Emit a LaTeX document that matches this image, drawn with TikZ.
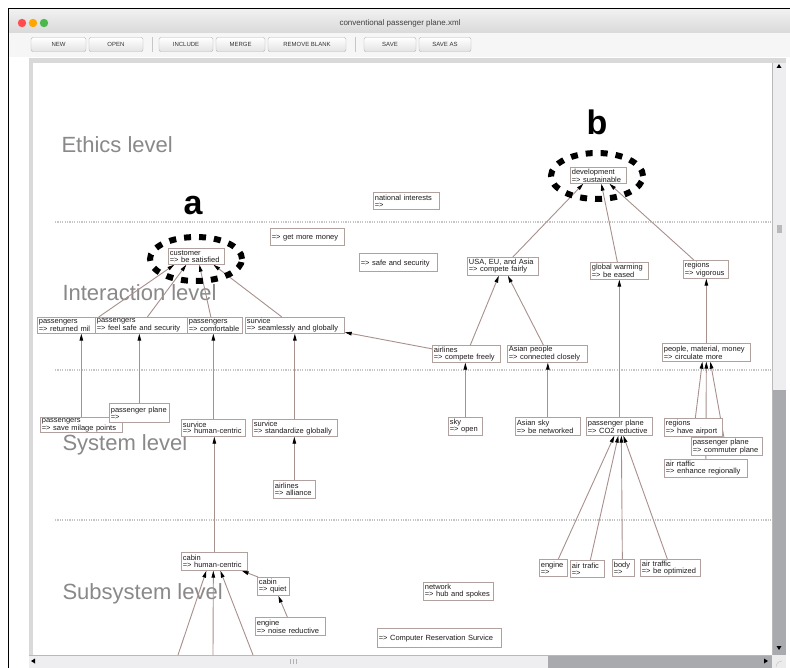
\documentclass[tikz,border=0pt]{standalone}
\usepackage{fontspec}
\setmainfont{Liberation Sans}
\newfontfamily\nodefont{Liberation Sans}
\usetikzlibrary{arrows.meta,calc}
\pgfdeclarelayer{chrome}
\pgfdeclarelayer{links}
\pgfsetlayers{chrome,links,main}

\definecolor{boxline}{RGB}{176,160,158}
\definecolor{linkline}{RGB}{168,144,140}
\definecolor{leveltext}{RGB}{138,136,136}
\definecolor{nodetext}{RGB}{30,26,26}
\definecolor{track}{RGB}{168,170,174}
\definecolor{lightbar}{RGB}{238,238,240}

\tikzset{
  bx/.style={draw=boxline, fill=white, line width=0.7pt, anchor=north west,
    inner xsep=1.5pt, inner ysep=0.5pt, align=left, text=nodetext,
    font=\nodefont\fontsize{7.5}{6.9}\selectfont},
  bw/.code={\pgfmathsetlengthmacro\boxtw{#1-3}\tikzset{text width=\boxtw}},
  bh/.style={minimum height=#1},
  link/.style={draw=linkline, line width=0.9pt,
    -{Triangle[length=7pt,width=3.6pt,color=black]}},
  levelsep/.style={draw=gray!45, line width=1.3pt, dash pattern=on 1.2pt off 1.2pt},
  levelname/.style={anchor=base west, text=leveltext, font=\fontsize{22}{22}\selectfont},
  tag/.style={anchor=base, font=\bfseries\fontsize{34}{34}\selectfont},
  hilite/.style={draw=black, line width=6pt, dash pattern=on 7pt off 8pt},
  btn/.style={draw=gray!60, rounded corners=2pt, top color=white, bottom color=gray!22,
    minimum height=14pt, inner sep=0pt, text=black!80, font=\fontsize{6}{6}\selectfont},
}

\begin{document}
\begin{tikzpicture}[x=1pt,y=-1pt]
\useasboundingbox (0,0) rectangle (790,668);

\begin{pgfonlayer}{chrome}
  % page and window frame
  \fill[white] (0,0) rectangle (790,668);
  \shade[top color=gray!12, bottom color=gray!30] (9,10) rectangle (790,33);
  \fill[gray!7] (9,33) rectangle (790,57);
  \draw[black, line width=1pt] (8.5,668) -- (8.5,8.5) -- (790,8.5);
  % window buttons
  \fill[red!70!white] (22,23) circle (4.2pt);
  \fill[orange!70!yellow] (33,23) circle (4.2pt);
  \fill[green!60!black!70!white] (44,23) circle (4.2pt);
  \node[text=black!75, font=\fontsize{8}{8}\selectfont] (title) at (400,23) {conventional passenger plane.xml};
  % toolbar
  \node[btn, minimum width=55pt] (bnew) at (58.5,44.5) {NEW};
  \node[btn, minimum width=54pt] (bopen) at (116,44.5) {OPEN};
  \draw[gray!45] (152,37) -- (152,52);
  \node[btn, minimum width=54pt] (binc) at (186,44.5) {INCLUDE};
  \node[btn, minimum width=49pt] (bmerge) at (240.5,44.5) {MERGE};
  \node[btn, minimum width=78pt] (brem) at (307,44.5) {REMOVE BLANK};
  \draw[gray!45] (355,37) -- (355,52);
  \node[btn, minimum width=52pt] (bsave) at (390,44.5) {SAVE};
  \node[btn, minimum width=52pt] (bsaveas) at (445,44.5) {SAVE AS};
  % canvas
  \fill[gray!30] (29,58) rectangle (786,668);
  \fill[white] (33,63) rectangle (772,655);
  % vertical scroll bar
  \fill[lightbar] (773,63) rectangle (786,390);
  \fill[track] (773,390) rectangle (786,655);
  \draw[gray!55] (772.5,63) -- (772.5,655);
  \fill[gray!55] (776.5,225) rectangle (781.5,233);
  \fill[black] (776.5,68) -- (781.5,68) -- (779,64) -- cycle;
  \fill[black] (776.5,646) -- (781.5,646) -- (779,650) -- cycle;
  % horizontal scroll bar
  \fill[lightbar] (29,655) rectangle (548,668);
  \fill[track] (548,655) rectangle (772,668);
  \draw[gray!55] (29,655.5) -- (772,655.5);
  \foreach \gx in {290,293,296} \draw[gray!60, line width=0.8pt] (\gx,659) -- (\gx,664);
  \fill[black] (35,658.5) -- (35,663.5) -- (31,661) -- cycle;
  \fill[black] (764,658.5) -- (764,663.5) -- (768,661) -- cycle;
  \fill[gray!15] (772,655) rectangle (786,668);
  \draw[gray!50] (776,667) arc[start angle=180, end angle=90, radius=6pt];
  % level separators and names
  \draw[levelsep] (55,222) -- (772,222);
  \draw[levelsep] (55,370) -- (772,370);
  \draw[levelsep] (55,520) -- (772,520);
  \node[levelname] (lv1) at (58,153) {Ethics level};
  \node[levelname] (lv2) at (59,301) {Interaction level};
  \node[levelname] (lv3) at (59,450) {System level};
  \node[levelname] (lv4) at (59,599) {Subsystem level};
\end{pgfonlayer}

% ethics level
\node[bx, bw=66, bh=17] (n_nat) at (373,192) {national interests\\=>};
\node[bx, bw=56, bh=16] (n_dev) at (570,167) {development\\=> sustainable};

% interaction level
\node[bx, bw=74, bh=17] (n_money) at (270,228) {\mbox{}\\=> get more money};
\node[bx, bw=78, bh=18] (n_safe) at (359,253) {\mbox{}\\=> safe and security};
\node[bx, bw=56, bh=16] (n_cust) at (168,248) {customer\\=> be satisfied};
\node[bx, bw=71, bh=18] (n_usa) at (467,257) {USA, EU, and Asia\\=> compete fairly};
\node[bx, bw=58, bh=17] (n_gw) at (590,262) {global warming\\=> be eased};
\node[bx, bw=45, bh=18] (n_reg) at (683,260) {regions\\=> vigorous};
\node[bx, bw=62, bh=16] (n_p1) at (37,317) {passengers\\=> returned mil};
\node[bx, bw=92, bh=16] (n_p2) at (95,317) {passengers\\=> feel safe and security};
\node[bx, bw=55, bh=16] (n_p3) at (187,317) {passengers\\=> comfortable};
\node[bx, bw=99, bh=16] (n_srv) at (245,317) {survice\\=> seamlessly and globally};
\node[bx, bw=68, bh=17] (n_air) at (432,345) {airlines\\=> compete freely};
\node[bx, bw=80, bh=17] (n_asp) at (507,345) {Asian people\\=> connected closely};
\node[bx, bw=88, bh=18] (n_pmm) at (662,343) {people, material, money\\=> circulate more};

% system level
\node[bx, bw=82, bh=15] (n_pmil) at (40,417) {passengers\\=> save milage points};
\node[bx, bw=60, bh=19] (n_pp) at (109,403) {passenger plane\\=>};
\node[bx, bw=64, bh=17] (n_shc) at (181,419) {survice\\=> human-centric};
\node[bx, bw=85, bh=17] (n_sstd) at (252,419) {survice\\=> standardize globally};
\node[bx, bw=42, bh=18] (n_alli) at (273,480) {airlines\\=> alliance};
\node[bx, bw=34, bh=18] (n_sky) at (448,417) {sky\\=> open};
\node[bx, bw=65, bh=18] (n_asky) at (515,417) {Asian sky\\=> be networked};
\node[bx, bw=66, bh=18] (n_co2) at (586,417) {passenger plane\\=> CO2 reductive};
\node[bx, bw=83, bh=18] (n_atr) at (664,459) {air rtaffic\\=> enhance regionally};
\node[bx, bw=71, bh=18] (n_comm) at (691,437) {passenger plane\\=> commuter plane};
\node[bx, bw=58, bh=18] (n_rair) at (664,418) {regions\\=> have airport};

% subsystem level
\node[bx, bw=66, bh=18] (n_chc) at (181,552) {cabin\\=> human-centric};
\node[bx, bw=32, bh=18] (n_cq) at (257,577) {cabin\\=> quiet};
\node[bx, bw=70, bh=18] (n_eng2) at (255,617) {engine\\=> noise reductive};
\node[bx, bw=70, bh=18] (n_net) at (423,582) {network\\=> hub and spokes};
\node[bx, bw=124, bh=19] (n_crs) at (377,628) {\mbox{}\\=> Computer Reservation Survice};
\node[bx, bw=28, bh=17] (n_eng) at (539,559) {engine\\=>};
\node[bx, bw=34, bh=17] (n_atf) at (570,560) {air trafic\\=>};
\node[bx, bw=22, bh=17] (n_body) at (612,559) {body\\=>};
\node[bx, bw=60, bh=17] (n_opt) at (640,559) {air traffic\\=> be optimized};

% connectors from below the visible area
\coordinate (lo1) at (178,655);
\coordinate (lo2) at (213,655);
\coordinate (lo3) at (253,655);

\begin{pgfonlayer}{links}
  \draw[link] ([xshift=10pt]n_usa.north) -- ([xshift=-15pt]n_dev.south);
  \draw[link] ([xshift=-2pt]n_gw.north) -- ([xshift=3pt]n_dev.south);
  \draw[link] ([xshift=-12pt]n_reg.north) -- ([xshift=11pt]n_dev.south);
  \draw[link] ([xshift=-1pt]n_p1.north east) -- ([xshift=-22pt]n_cust.south);
  \draw[link] ([xshift=6pt]n_p2.north) -- ([xshift=-10pt]n_cust.south);
  \draw[link] ([xshift=-4pt]n_p3.north) -- ([xshift=3pt]n_cust.south);
  \draw[link] ([xshift=-13pt]n_srv.north) -- ([xshift=17pt]n_cust.south);
  \draw[link] (n_pmil.north) -- (n_pmil.north |- n_p1.south);
  \draw[link] (n_pp.north) -- (n_pp.north |- n_p2.south);
  \draw[link] (n_shc.north) -- (n_shc.north |- n_p3.south);
  \draw[link] (n_sstd.north) -- (n_sstd.north |- n_srv.south);
  \draw[link] (n_alli.north) -- (n_alli.north |- n_sstd.south);
  \draw[link] (n_chc.north) -- (n_chc.north |- n_shc.south);
  \draw[link] ($(n_air.west)+(0,-5)$) -- ($(n_srv.east)+(0,7)$);
  \draw[link] ([xshift=4pt]n_air.north) -- ([xshift=-4pt]n_usa.south);
  \draw[link] ([xshift=-4pt]n_asp.north) -- ([xshift=5pt]n_usa.south);
  \draw[link] (n_sky.north) -- (n_sky.north |- n_air.south);
  \draw[link] (n_asky.north) -- (n_asky.north |- n_asp.south);
  \draw[link] (n_co2.north) -- (n_co2.north |- n_gw.south);
  \draw[link] (n_pmm.north) -- (n_pmm.north |- n_reg.south);
  \draw[link] ([xshift=2pt]n_rair.north) -- ([xshift=-4pt]n_pmm.south);
  \draw[link] (n_atr.north) -- (n_pmm.south);
  \draw[link] ([xshift=-3pt]n_comm.north) -- ([xshift=4pt]n_pmm.south);
  \draw[link] ([xshift=5pt]n_eng.north) -- ([xshift=-5pt]n_co2.south);
  \draw[link] ([xshift=3pt]n_atf.north) -- ([xshift=-1pt]n_co2.south);
  \draw[link] ([xshift=-1pt]n_body.north) -- ([xshift=2pt]n_co2.south);
  \draw[link] ([xshift=-3pt]n_opt.north) -- ([xshift=4pt]n_co2.south);
  \draw[link] ([xshift=1pt]n_cq.north west) -- ([xshift=-6pt]n_chc.south east);
  \draw[link] ([xshift=-3pt]n_eng2.north) -- ([xshift=5pt]n_cq.south);
  \draw[link] (lo1) -- ([xshift=-8pt]n_chc.south);
  \draw[link] (lo2) -- ([xshift=-1pt]n_chc.south);
  \draw[link] (lo3) -- ([xshift=6pt]n_chc.south);
\end{pgfonlayer}

% highlighted nodes
\draw[hilite] (196,259) ellipse [x radius=46pt, y radius=22pt];
\draw[hilite] (597,176) ellipse [x radius=46pt, y radius=23pt];
\node[tag] (tag_a) at (193,215) {a};
\node[tag] (tag_b) at (597,135) {b};
\end{tikzpicture}
\end{document}
